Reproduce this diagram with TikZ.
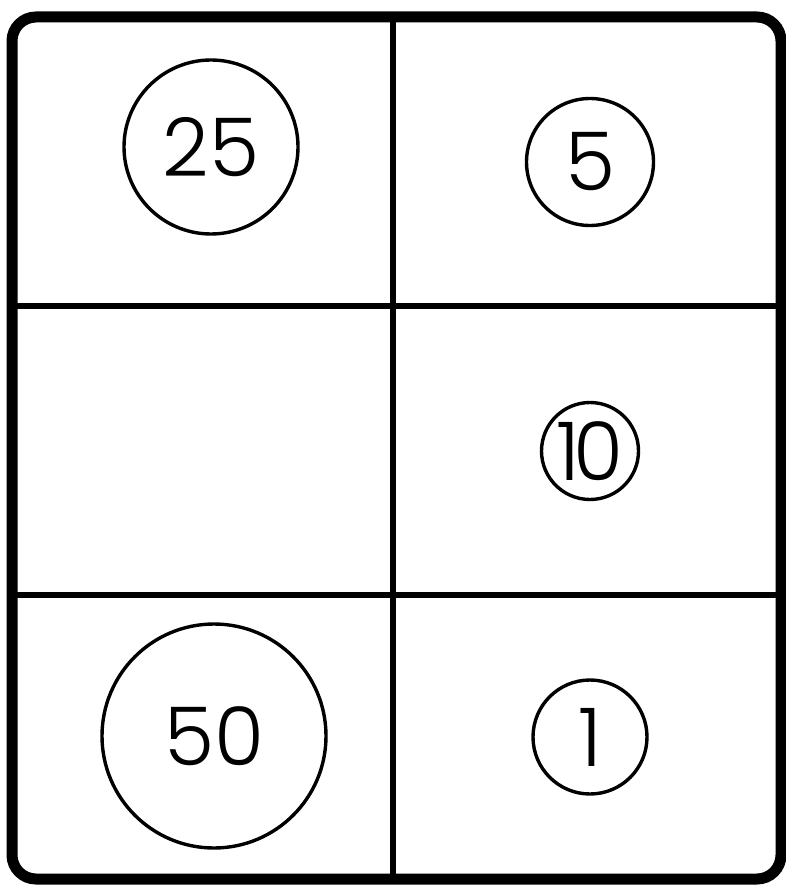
\documentclass[tikz,border=0pt]{standalone}
\usepackage{fontspec}
\setmainfont{Poppins Light}
\begin{document}
\begin{tikzpicture}[x=1pt,y=-1pt,
  frame/.style={line width=11pt, rounded corners=24pt},
  divider/.style={line width=5.5pt},
  coin/.style={circle, draw, line width=3.4pt, inner sep=0pt, font=\fontsize{81}{81}\selectfont}]
\useasboundingbox (0,0) rectangle (786,885);
\draw[frame] (12,17) rectangle (781,879);
\coordinate (vt) at (393,17);
\coordinate (vb) at (393,879);
\coordinate (hal) at (12,306);
\coordinate (har) at (781,306);
\coordinate (hbl) at (12,595);
\coordinate (hbr) at (781,595);
\draw[divider] (vt) -- (vb);
\draw[divider] (hal) -- (har);
\draw[divider] (hbl) -- (hbr);
\node[coin, minimum size=174pt] (c25) at (211,147) {25};
\node[coin, minimum size=127pt] (c5) at (590,162) {5};
\node[coin, minimum size=97pt] (c10) at (590,451) {1\kern-0.08em0};
\node[coin, minimum size=224pt] (c50) at (214,736) {50};
\node[coin, minimum size=114pt] (c1) at (590,737) {1};
\end{tikzpicture}
\end{document}
